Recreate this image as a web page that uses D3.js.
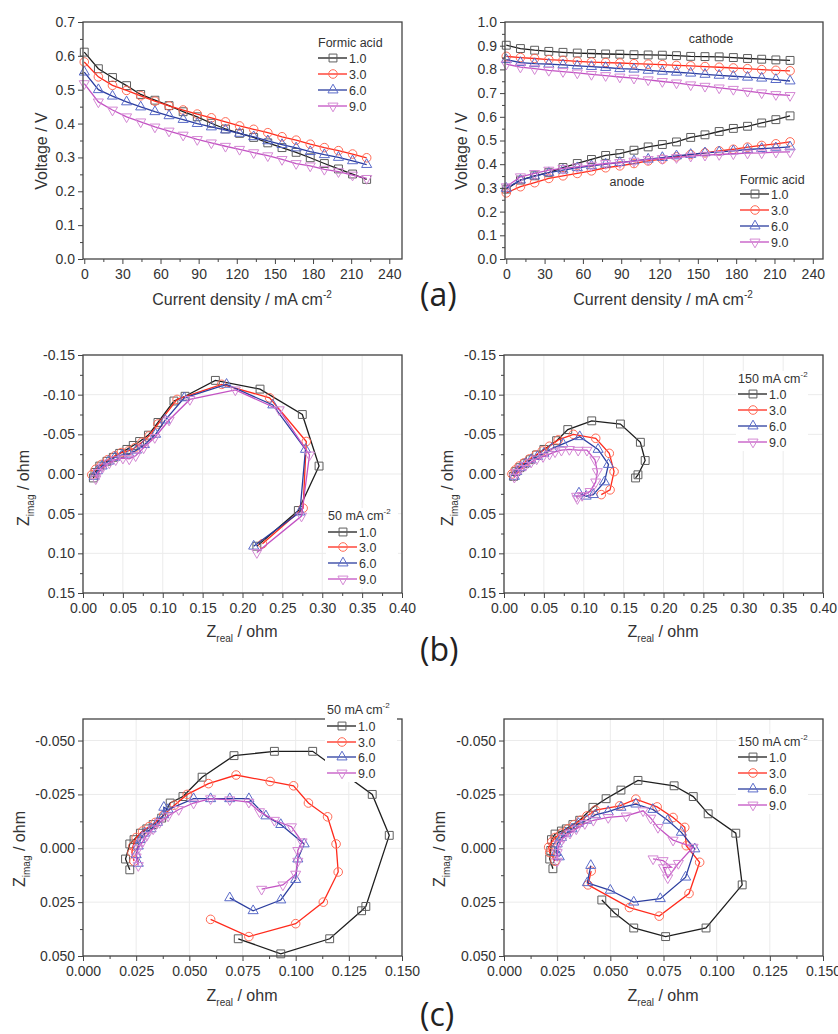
<!DOCTYPE html>
<html>
<head>
<meta charset="UTF-8">
<title>Formic acid cell</title>
<style>
body { margin: 0; background: #fff; }
svg text { font-family: "Liberation Sans", Arial, sans-serif; fill: #333; }
.axis text { font-size: 14px; }
.axis line { stroke: #444; }
.lg text { font-size: 12.5px; }
.ttl { font-size: 16px; }
.lbl { font-family: "Open Sans", sans-serif !important; font-size: 32px; fill: #222 !important; }
</style>
<script src="https://d3js.org/d3.v7.min.js"></script>
</head>
<body>
<script>
// ---- data ----
var concLabels = ["1.0", "3.0", "6.0", "9.0"];
var density = [0, 11.1, 22.2, 33.3, 44.4, 55.6, 66.7, 77.8, 88.9, 100, 111.1, 122.2, 133.3, 144.4, 155.6, 166.7, 177.8, 188.9, 200, 211.1, 222.2];

// (a) cell voltage
var cell_10 = [0.611,0.562,0.536,0.512,0.486,0.469,0.453,0.435,0.420,0.401,0.384,0.371,0.359,0.343,0.329,0.315,0.299,0.282,0.266,0.251,0.235];
var cell_30 = [0.582,0.538,0.513,0.498,0.482,0.466,0.452,0.440,0.428,0.417,0.405,0.393,0.383,0.373,0.361,0.351,0.339,0.329,0.320,0.310,0.299];
var cell_60 = [0.552,0.500,0.481,0.464,0.449,0.435,0.423,0.412,0.400,0.390,0.381,0.371,0.361,0.349,0.338,0.328,0.317,0.308,0.300,0.290,0.279];
var cell_90 = [0.518,0.464,0.440,0.420,0.405,0.390,0.378,0.366,0.353,0.343,0.333,0.324,0.314,0.305,0.294,0.282,0.275,0.265,0.258,0.248,0.238];

// (a) electrode potentials
var cat_10 = [0.902,0.888,0.881,0.876,0.872,0.869,0.867,0.865,0.864,0.862,0.861,0.860,0.858,0.855,0.854,0.853,0.850,0.846,0.843,0.840,0.838];
var cat_30 = [0.855,0.850,0.846,0.841,0.838,0.834,0.831,0.829,0.827,0.824,0.822,0.820,0.817,0.815,0.812,0.809,0.806,0.803,0.799,0.796,0.794];
var cat_60 = [0.841,0.829,0.824,0.822,0.819,0.815,0.812,0.808,0.803,0.801,0.796,0.792,0.788,0.784,0.779,0.775,0.771,0.767,0.763,0.757,0.751];
var cat_90 = [0.822,0.810,0.803,0.796,0.791,0.785,0.779,0.774,0.768,0.763,0.756,0.749,0.743,0.735,0.729,0.722,0.716,0.708,0.701,0.694,0.690];
var an_10 = [0.295,0.333,0.351,0.364,0.386,0.403,0.420,0.437,0.445,0.459,0.473,0.483,0.494,0.513,0.524,0.538,0.551,0.560,0.574,0.588,0.604];
var an_30 = [0.279,0.305,0.322,0.340,0.351,0.361,0.372,0.385,0.393,0.403,0.414,0.421,0.431,0.441,0.448,0.456,0.463,0.472,0.479,0.486,0.494];
var an_60 = [0.298,0.333,0.350,0.364,0.375,0.385,0.393,0.400,0.407,0.414,0.421,0.428,0.435,0.441,0.448,0.452,0.456,0.462,0.466,0.469,0.473];
var an_90 = [0.305,0.347,0.361,0.375,0.382,0.389,0.396,0.403,0.407,0.413,0.420,0.424,0.428,0.434,0.438,0.441,0.444,0.447,0.448,0.451,0.452];

// (b) impedance, [Zreal, Zimag]
var b50_10 = [[0.013,0.005],[0.015,-0.002],[0.021,-0.010],[0.030,-0.016],[0.038,-0.021],[0.046,-0.026],[0.055,-0.031],[0.063,-0.036],[0.071,-0.041],[0.082,-0.049],[0.094,-0.065],[0.114,-0.092],[0.128,-0.098],[0.166,-0.118],[0.222,-0.107],[0.275,-0.075],[0.296,-0.010],[0.270,0.046],[0.218,0.091]];
var b50_30 = [[0.011,0.001],[0.016,-0.006],[0.023,-0.012],[0.031,-0.018],[0.040,-0.023],[0.048,-0.027],[0.057,-0.029],[0.065,-0.033],[0.074,-0.040],[0.083,-0.048],[0.094,-0.063],[0.118,-0.094],[0.174,-0.113],[0.234,-0.096],[0.280,-0.041],[0.276,0.043],[0.225,0.088]];
var b50_60 = [[0.014,0.003],[0.018,-0.004],[0.024,-0.010],[0.032,-0.016],[0.040,-0.021],[0.049,-0.024],[0.058,-0.025],[0.067,-0.030],[0.077,-0.037],[0.091,-0.050],[0.103,-0.068],[0.127,-0.096],[0.180,-0.113],[0.238,-0.087],[0.279,-0.031],[0.272,0.048],[0.214,0.091]];
var b50_90 = [[0.016,0.006],[0.019,-0.002],[0.025,-0.009],[0.033,-0.014],[0.041,-0.018],[0.050,-0.020],[0.058,-0.019],[0.066,-0.023],[0.076,-0.033],[0.090,-0.046],[0.108,-0.068],[0.134,-0.094],[0.191,-0.106],[0.246,-0.081],[0.284,-0.024],[0.274,0.053],[0.218,0.099]];

var b150_10 = [[0.012,0.003],[0.015,-0.003],[0.020,-0.008],[0.026,-0.013],[0.033,-0.018],[0.041,-0.024],[0.050,-0.031],[0.066,-0.042],[0.080,-0.056],[0.110,-0.067],[0.146,-0.063],[0.171,-0.040],[0.177,-0.017],[0.168,0.001],[0.165,0.005]];
var b150_30 = [[0.010,0.000],[0.014,-0.005],[0.019,-0.010],[0.025,-0.014],[0.032,-0.019],[0.040,-0.024],[0.048,-0.029],[0.057,-0.035],[0.068,-0.043],[0.087,-0.050],[0.115,-0.045],[0.132,-0.026],[0.138,-0.003],[0.133,0.020],[0.122,0.026]];
var b150_60 = [[0.013,0.003],[0.016,-0.003],[0.021,-0.008],[0.027,-0.013],[0.034,-0.018],[0.042,-0.022],[0.050,-0.026],[0.060,-0.032],[0.074,-0.038],[0.095,-0.047],[0.118,-0.031],[0.131,-0.012],[0.126,0.010],[0.112,0.026],[0.103,0.028],[0.094,0.024]];
var b150_90 = [[0.013,0.004],[0.016,-0.002],[0.021,-0.007],[0.027,-0.011],[0.034,-0.015],[0.041,-0.019],[0.049,-0.022],[0.057,-0.025],[0.064,-0.028],[0.072,-0.030],[0.082,-0.031],[0.093,-0.030],[0.104,-0.030],[0.114,-0.018],[0.117,-0.003],[0.115,0.010],[0.108,0.022],[0.098,0.027],[0.091,0.028],[0.092,0.031]];

// (c) impedance, [Zreal, Zimag]
var c50_10 = [[0.022,0.010],[0.020,0.005],[0.022,-0.002],[0.024,-0.004],[0.027,-0.007],[0.030,-0.009],[0.033,-0.011],[0.037,-0.014],[0.041,-0.021],[0.047,-0.024],[0.056,-0.033],[0.071,-0.043],[0.090,-0.045],[0.108,-0.045],[0.136,-0.025],[0.144,-0.006],[0.133,0.027],[0.131,0.029],[0.116,0.042],[0.093,0.049],[0.073,0.042]];
var c50_30 = [[0.024,0.006],[0.023,0.002],[0.0235,-0.001],[0.025,-0.005],[0.028,-0.008],[0.031,-0.010],[0.034,-0.012],[0.038,-0.0155],[0.043,-0.020],[0.049,-0.025],[0.059,-0.030],[0.072,-0.034],[0.088,-0.031],[0.099,-0.029],[0.106,-0.021],[0.115,-0.0146],[0.119,-0.002],[0.120,0.011],[0.113,0.025],[0.100,0.035],[0.078,0.041],[0.060,0.033]];
var c50_60 = [[0.026,0.007],[0.025,0.003],[0.026,-0.001],[0.027,-0.004],[0.029,-0.007],[0.032,-0.009],[0.035,-0.012],[0.038,-0.0155],[0.038,-0.019],[0.040,-0.018],[0.052,-0.023],[0.060,-0.023],[0.069,-0.023],[0.078,-0.023],[0.086,-0.015],[0.093,-0.011],[0.104,-0.002],[0.101,0.005],[0.100,0.0145],[0.093,0.024],[0.080,0.029],[0.069,0.023]];
var c50_90 = [[0.026,0.008],[0.025,0.004],[0.026,0.000],[0.028,-0.003],[0.030,-0.006],[0.033,-0.009],[0.036,-0.012],[0.040,-0.015],[0.045,-0.018],[0.052,-0.021],[0.060,-0.023],[0.069,-0.0225],[0.078,-0.0214],[0.083,-0.017],[0.090,-0.013],[0.098,-0.010],[0.103,-0.003],[0.101,0.001],[0.101,0.006],[0.100,0.012],[0.094,0.017],[0.084,0.019]];

var c150_10 = [[0.023,0.0095],[0.0215,0.005],[0.022,0.001],[0.0223,-0.004],[0.024,-0.0066],[0.027,-0.008],[0.0293,-0.009],[0.0324,-0.011],[0.0356,-0.013],[0.0418,-0.019],[0.048,-0.023],[0.055,-0.027],[0.063,-0.0315],[0.080,-0.029],[0.089,-0.024],[0.096,-0.016],[0.109,-0.007],[0.112,0.017],[0.095,0.037],[0.076,0.041],[0.061,0.037],[0.052,0.030],[0.046,0.024]];
var c150_30 = [[0.024,0.006],[0.0215,0.002],[0.021,-0.0005],[0.0225,-0.003],[0.024,-0.005],[0.027,-0.007],[0.030,-0.009],[0.033,-0.011],[0.036,-0.013],[0.039,-0.015],[0.043,-0.0177],[0.0544,-0.0197],[0.062,-0.0228],[0.072,-0.0192],[0.0795,-0.0143],[0.085,-0.0097],[0.0857,-0.0012],[0.092,0.0065],[0.087,0.021],[0.073,0.0315],[0.059,0.0275],[0.0395,0.017],[0.041,0.0106]];
var c150_60 = [[0.026,0.004],[0.0245,0.002],[0.025,-0.002],[0.027,-0.005],[0.0293,-0.007],[0.032,-0.009],[0.035,-0.0115],[0.039,-0.013],[0.043,-0.0155],[0.049,-0.017],[0.055,-0.019],[0.062,-0.0205],[0.070,-0.018],[0.077,-0.013],[0.0834,-0.0074],[0.0897,0.0003],[0.0854,0.0134],[0.0735,0.0234],[0.061,0.025],[0.050,0.0195],[0.0392,0.016],[0.0408,0.008]];
var c150_90 = [[0.025,0.006],[0.025,0.002],[0.026,-0.002],[0.028,-0.005],[0.031,-0.007],[0.034,-0.009],[0.038,-0.0115],[0.042,-0.013],[0.049,-0.0143],[0.0575,-0.015],[0.0654,-0.0174],[0.069,-0.014],[0.0724,-0.0097],[0.0795,-0.0038],[0.0889,-0.0005],[0.082,0.007],[0.077,0.0137],[0.075,0.009],[0.0787,0.0088],[0.0748,0.0057],[0.0701,0.0049]];

// ticks
var ticksA_x = [0, 30, 60, 90, 120, 150, 180, 210, 240];
var ticksA_yL = [0, 0.1, 0.2, 0.3, 0.4, 0.5, 0.6, 0.7];
var ticksA_yR = [0, 0.1, 0.2, 0.3, 0.4, 0.5, 0.6, 0.7, 0.8, 0.9, 1.0];
var ticksB_x = [0, 0.05, 0.10, 0.15, 0.20, 0.25, 0.30, 0.35, 0.40];
var ticksB_y = [-0.15, -0.10, -0.05, 0, 0.05, 0.10, 0.15];
var ticksC_x = [0, 0.025, 0.05, 0.075, 0.10, 0.125, 0.15];
var ticksC_y = [-0.05, -0.025, 0, 0.025, 0.05];

// ---- drawing ----
var lineColors = ["#1e1e1e", "#ff2a1c", "#2b3d9e", "#c352c3"];
var markColors = ["#5e5e5e", "#ff6a55", "#5a6bc9", "#d488d4"];
var symTypes = [d3.symbolSquare, d3.symbolCircle, d3.symbolTriangle, d3.symbolTriangle];
var symSizes = [62, 58, 44, 44];

var svg = d3.select("body").append("svg").attr("width", 838).attr("height", 1034);

function pairs(vals) { return vals.map(function(v, i) { return [density[i], v]; }); }
function minors(t) {
  var m = [];
  for (var i = 0; i < t.length - 1; i++) m.push((t[i] + t[i + 1]) / 2);
  return m;
}
function addMarker(sel, ci, px, py) {
  sel.append("path")
    .attr("d", d3.symbol(symTypes[ci], symSizes[ci])())
    .attr("transform", "translate(" + px + "," + py + ")" + (ci == 3 ? " rotate(180)" : ""))
    .attr("fill", "none").attr("stroke", markColors[ci]).attr("stroke-width", 1);
}

function titleText(sel, kind) {
  if (kind == "cd") {
    sel.text("Current density / mA cm");
    sel.append("tspan").attr("dy", -7).style("font-size", "10px").text("-2");
  } else if (kind == "V") {
    sel.text("Voltage / V");
  } else {
    sel.text("Z");
    sel.append("tspan").attr("dy", 5).style("font-size", "10px").text(kind == "re" ? "real" : "imag");
    sel.append("tspan").attr("dy", -5).text(" / ohm");
  }
}

function drawPanel(p) {
  var g = svg.append("g");
  var x = d3.scaleLinear().domain(p.xDomain).range([p.left, p.right]);
  var y = d3.scaleLinear().domain(p.yDomain).range(p.yDown ? [p.top, p.bottom] : [p.bottom, p.top]);

  if (p.grid) {
    g.selectAll(".gx").data(p.xTicks).join("line")
      .attr("x1", function(d) { return x(d); }).attr("x2", function(d) { return x(d); })
      .attr("y1", p.top).attr("y2", p.bottom).attr("stroke", "#ebebeb");
    g.selectAll(".gy").data(p.yTicks).join("line")
      .attr("y1", function(d) { return y(d); }).attr("y2", function(d) { return y(d); })
      .attr("x1", p.left).attr("x2", p.right).attr("stroke", "#ebebeb");
  }

  var line = d3.line().x(function(d) { return x(d[0]); }).y(function(d) { return y(d[1]); });
  p.series.forEach(function(s) {
    g.append("path").datum(s.data).attr("d", line)
      .attr("fill", "none").attr("stroke", lineColors[s.c]).attr("stroke-width", 1.3);
    var mg = g.append("g");
    s.data.forEach(function(d) { addMarker(mg, s.c, x(d[0]), y(d[1])); });
  });

  g.append("rect").attr("x", p.left).attr("y", p.top)
    .attr("width", p.right - p.left).attr("height", p.bottom - p.top)
    .attr("fill", "none").attr("stroke", "#444").attr("stroke-width", 1.3);

  var xa = g.append("g").attr("class", "axis").attr("transform", "translate(0," + p.bottom + ")")
    .call(d3.axisBottom(x).tickValues(p.xTicks).tickFormat(p.fmtX).tickSize(5).tickSizeOuter(0).tickPadding(5));
  xa.select(".domain").remove();
  var xm = g.append("g").attr("class", "axis").attr("transform", "translate(0," + p.bottom + ")")
    .call(d3.axisBottom(x).tickValues(minors(p.xTicks)).tickFormat("").tickSize(3).tickSizeOuter(0));
  xm.select(".domain").remove();

  var ya = g.append("g").attr("class", "axis").attr("transform", "translate(" + p.left + ",0)")
    .call(d3.axisLeft(y).tickValues(p.yTicks).tickFormat(p.fmtY).tickSize(5).tickSizeOuter(0).tickPadding(3));
  ya.select(".domain").remove();
  var ym = g.append("g").attr("class", "axis").attr("transform", "translate(" + p.left + ",0)")
    .call(d3.axisLeft(y).tickValues(minors(p.yTicks)).tickFormat("").tickSize(3).tickSizeOuter(0));
  ym.select(".domain").remove();

  // axis titles
  g.append("text").attr("class", "ttl").attr("x", p.xTitle[0]).attr("y", p.xTitle[1])
    .attr("text-anchor", "middle").call(titleText, p.xKind);
  g.append("text").attr("class", "ttl")
    .attr("transform", "translate(" + p.yTitle[0] + "," + p.yTitle[1] + ") rotate(-90)")
    .attr("text-anchor", "middle").call(titleText, p.yKind);

  // legend
  var lg = g.append("g").attr("class", "lg");
  if (p.legendBg) {
    lg.append("rect").attr("x", p.lx - 2).attr("y", p.ltY - 12)
      .attr("width", 72).attr("height", p.lRows[3] + 9 - p.ltY + 12).attr("fill", "#fff");
  }
  var lt = lg.append("text").attr("x", p.lx).attr("y", p.ltY).text(p.legendTitle[0]);
  if (p.legendTitle[1]) lt.append("tspan").attr("dy", -6).style("font-size", "8px").text(p.legendTitle[1]);
  concLabels.forEach(function(lab, i) {
    var cy = p.lRows[i];
    lg.append("line").attr("x1", p.lx).attr("x2", p.lx + 29).attr("y1", cy).attr("y2", cy)
      .attr("stroke", lineColors[i]).attr("stroke-width", 1.3);
    addMarker(lg, i, p.lx + 15, cy);
    lg.append("text").attr("x", p.lx + 31).attr("y", cy + 4.5).text(lab);
  });
  return g;
}

var f1 = function(d) { return d.toFixed(1); };
var f2 = function(d) { return d.toFixed(2); };
var f3 = function(d) { return d.toFixed(3); };
var fi = function(d) { return String(d); };

drawPanel({ left: 83, right: 402, top: 22, bottom: 259, xDomain: [-1, 250], yDomain: [0, 0.7],
  xTicks: ticksA_x, yTicks: ticksA_yL, fmtX: fi, fmtY: f1,
  series: [{ data: pairs(cell_10), c: 0 }, { data: pairs(cell_30), c: 1 }, { data: pairs(cell_60), c: 2 }, { data: pairs(cell_90), c: 3 }],
  xKind: "cd", yKind: "V", xTitle: [242, 305], yTitle: [47, 151],
  lx: 318, ltY: 47, lRows: [58, 74, 90, 106], legendTitle: ["Formic acid"] });

var gA2 = drawPanel({ left: 505, right: 823, top: 22, bottom: 259, xDomain: [-1, 248], yDomain: [0, 1.0],
  xTicks: ticksA_x, yTicks: ticksA_yR, fmtX: fi, fmtY: f1,
  series: [{ data: pairs(cat_10), c: 0 }, { data: pairs(cat_30), c: 1 }, { data: pairs(cat_60), c: 2 }, { data: pairs(cat_90), c: 3 },
           { data: pairs(an_10), c: 0 }, { data: pairs(an_30), c: 1 }, { data: pairs(an_60), c: 2 }, { data: pairs(an_90), c: 3 }],
  xKind: "cd", yKind: "V", xTitle: [663, 305], yTitle: [467, 151],
  lx: 740, ltY: 184, lRows: [194, 210, 226, 242], legendTitle: ["Formic acid"] });
gA2.append("text").attr("x", 711).attr("y", 43).attr("text-anchor", "middle").style("font-size", "12.5px").text("cathode");
gA2.append("text").attr("x", 627).attr("y", 186).attr("text-anchor", "middle").style("font-size", "12.5px").text("anode");

drawPanel({ left: 83, right: 402, top: 355, bottom: 593, xDomain: [0, 0.4], yDomain: [-0.15, 0.15], yDown: true, grid: true,
  xTicks: ticksB_x, yTicks: ticksB_y, fmtX: f2, fmtY: f2,
  series: [{ data: b50_10, c: 0 }, { data: b50_30, c: 1 }, { data: b50_60, c: 2 }, { data: b50_90, c: 3 }],
  xKind: "re", yKind: "im", xTitle: [242, 637], yTitle: [29, 488],
  lx: 328, ltY: 520, lRows: [532, 547, 563, 579], legendTitle: ["50 mA cm", "-2"], legendBg: true });

drawPanel({ left: 504, right: 823, top: 355, bottom: 593, xDomain: [0, 0.4], yDomain: [-0.15, 0.15], yDown: true, grid: true,
  xTicks: ticksB_x, yTicks: ticksB_y, fmtX: f2, fmtY: f2,
  series: [{ data: b150_10, c: 0 }, { data: b150_30, c: 1 }, { data: b150_60, c: 2 }, { data: b150_90, c: 3 }],
  xKind: "re", yKind: "im", xTitle: [663, 637], yTitle: [453, 488],
  lx: 738, ltY: 383, lRows: [394, 410, 426, 442], legendTitle: ["150 mA cm", "-2"], legendBg: true });

drawPanel({ left: 83, right: 402, top: 719, bottom: 956, xDomain: [0, 0.15], yDomain: [-0.06, 0.05], yDown: true, grid: true,
  xTicks: ticksC_x, yTicks: ticksC_y, fmtX: f3, fmtY: f3,
  series: [{ data: c50_10, c: 0 }, { data: c50_30, c: 1 }, { data: c50_60, c: 2 }, { data: c50_90, c: 3 }],
  xKind: "re", yKind: "im", xTitle: [242, 1001], yTitle: [25, 849],
  lx: 327, ltY: 714, lRows: [726, 742, 757, 773], legendTitle: ["50 mA cm", "-2"], legendBg: true });

drawPanel({ left: 504, right: 823, top: 719, bottom: 956, xDomain: [0, 0.15], yDomain: [-0.06, 0.05], yDown: true, grid: true,
  xTicks: ticksC_x, yTicks: ticksC_y, fmtX: f3, fmtY: f3,
  series: [{ data: c150_10, c: 0 }, { data: c150_30, c: 1 }, { data: c150_60, c: 2 }, { data: c150_90, c: 3 }],
  xKind: "re", yKind: "im", xTitle: [663, 1001], yTitle: [445, 849],
  lx: 738, ltY: 746, lRows: [757, 773, 789, 805], legendTitle: ["150 mA cm", "-2"], legendBg: true });

// panel letters
svg.append("text").attr("class", "lbl").attr("x", 420).attr("y", 306).text("(a)");
svg.append("text").attr("class", "lbl").attr("x", 420).attr("y", 661).text("(b)");
svg.append("text").attr("class", "lbl").attr("x", 420).attr("y", 1026).text("(c)");
</script>
</body>
</html>
